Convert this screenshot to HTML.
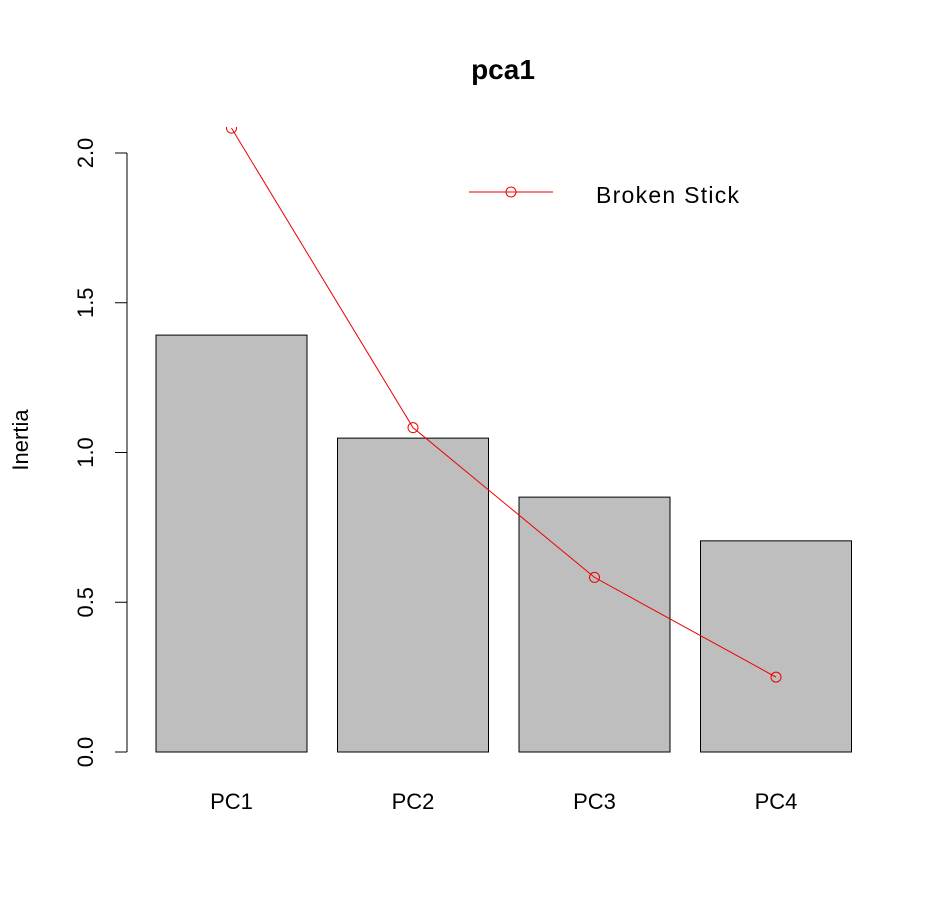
<!DOCTYPE html>
<html><head><meta charset="utf-8"><style>
html,body{margin:0;padding:0;background:#fff;}
svg{display:block;font-family:"Liberation Sans",Arial,sans-serif;}
</style></head><body>
<svg id="chart" width="945" height="912">
<defs><clipPath id="plotclip"><rect x="100" y="127" width="800" height="660"/></clipPath></defs>
<rect width="945" height="912" fill="#fff"/>
<text x="503" y="79" text-anchor="middle" font-size="28" font-weight="bold">pca1</text>
<text transform="translate(28,440) rotate(-90)" text-anchor="middle" font-size="22">Inertia</text>
<g id="yaxis"></g>
<g id="bars"></g>
<g id="xlabels"></g>
<g id="line" clip-path="url(#plotclip)"></g>
<g>
<line x1="469" y1="192" x2="553" y2="192" stroke="#e00" stroke-width="1"/>
<circle cx="511" cy="192" r="5" fill="none" stroke="#e00" stroke-width="1"/>
<text x="596" y="203" font-size="23" textLength="143">Broken Stick</text>
</g>
</svg>
<script>
const categories = ["PC1","PC2","PC3","PC4"];
const inertia = [1.392, 1.048, 0.851, 0.705];
const brokenStick = [2.083, 1.083, 0.583, 0.25];
const yTicks = [0, 0.5, 1.0, 1.5, 2.0];
const yTickLabels = ["0.0","0.5","1.0","1.5","2.0"];

const NS = "http://www.w3.org/2000/svg";
const y = v => 752 - v * 299.5;
const barLeft = i => 156 + i * 181.5;
const barW = 151;
const cx = i => barLeft(i) + barW / 2;
function mk(tag, attrs, parent){const e=document.createElementNS(NS,tag);for(const k in attrs)e.setAttribute(k,attrs[k]);parent.appendChild(e);return e;}

const ya = document.getElementById("yaxis");
const axl = mk("line",{x1:127,x2:127,y1:y(0),y2:y(2),stroke:"#000"},ya);


yTicks.forEach((t,i)=>{
  const tk = mk("line",{x1:115,x2:127,y1:y(t),y2:y(t),stroke:"#000"},ya);
  
  
  const tx = mk("text",{transform:`translate(93,${y(t)}) rotate(-90)`,"text-anchor":"middle","font-size":"22"},ya);
  tx.textContent = yTickLabels[i];
  
  
});

const bg = document.getElementById("bars");
const xl = document.getElementById("xlabels");
categories.forEach((c,i)=>{
  const r = mk("rect",{x:barLeft(i),y:y(inertia[i]),width:barW,height:y(0)-y(inertia[i]),fill:"#bebebe",stroke:"#000","stroke-width":1},bg);
  
  
  const t = mk("text",{x:cx(i),y:809,"text-anchor":"middle","font-size":"22"},xl);
  t.textContent = c;
  
  
});

const lg = document.getElementById("line");
const pl = mk("polyline",{points:brokenStick.map((v,i)=>cx(i)+","+y(v)).join(" "),fill:"none",stroke:"#e00","stroke-width":1},lg);


brokenStick.forEach((v,i)=>{
  const p = mk("circle",{cx:cx(i),cy:y(v),r:5,fill:"none",stroke:"#e00","stroke-width":1},lg);
  
  
});
</script>
</body></html>
